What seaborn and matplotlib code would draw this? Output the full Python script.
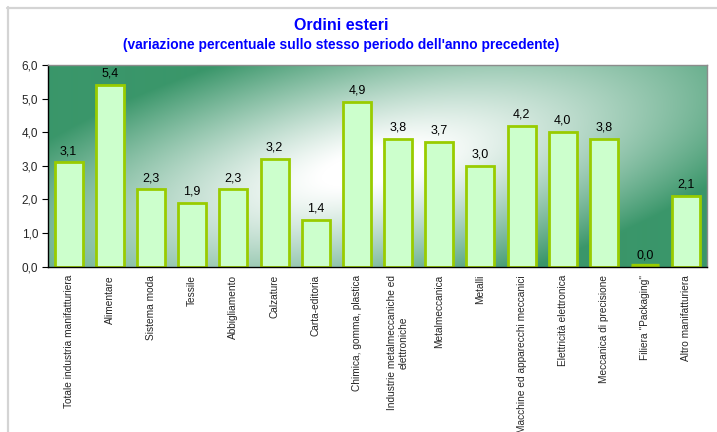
import numpy as np
import matplotlib
matplotlib.use("Agg")
import matplotlib.pyplot as plt
from matplotlib.lines import Line2D
from matplotlib.colors import to_rgb
import matplotlib.transforms as mtransforms
import seaborn as sns

categories = [
    "Totale industria manifatturiera",
    "Alimentare",
    "Sistema moda",
    "Tessile",
    "Abbigliamento",
    "Calzature",
    "Carta-editoria",
    "Chimica, gomma, plastica",
    "Industrie metalmeccaniche ed\nelettroniche",
    "Metalmeccanica",
    "Metalli",
    "Macchine ed apparecchi meccanici",
    "Elettricità elettronica",
    "Meccanica di precisione",
    "Filiera \"Packaging\"",
    "Altro manifatturiera",
]
values = [3.1, 5.4, 2.3, 1.9, 2.3, 3.2, 1.4, 4.9, 3.8, 3.7, 3.0, 4.2, 4.0, 3.8, 0.0, 2.1]
y_ticks = [0.0, 1.0, 2.0, 3.0, 4.0, 5.0, 6.0]

sns.set_style("white")
plt.rcParams["font.family"] = ["Liberation Sans", "DejaVu Sans"]

W, H = 717, 432
fig = plt.figure(figsize=(W / 100, H / 100), dpi=100)
fig.patch.set_facecolor("white")

# plot area in pixels
left, right, top, bottom = 48, 707, 65, 266.7
ax = fig.add_axes([left / W, (H - bottom) / H, (right - left) / W, (bottom - top) / H])

# green background with a tilted soft white glow
nx, ny = 660, 202
xs = np.arange(nx)[None, :]
ys = np.arange(ny)[:, None]  # from bottom
cx, cy = 325.0, 100.0
ang = np.deg2rad(13)
dx, dy = xs - cx, ys - cy
u = dx * np.cos(ang) + dy * np.sin(ang)
v = -dx * np.sin(ang) + dy * np.cos(ang)
t = np.sqrt((u / 440.0) ** 2 + (v / 140.0) ** 2)
f = np.clip((t - 0.12) / 0.88, 0, 1) ** 1.15
green = np.array(to_rgb("#3a966a"))
white = np.array([1.0, 1.0, 1.0])
img = white[None, None, :] * (1 - f[..., None]) + green[None, None, :] * f[..., None]
ax.imshow(img, extent=(-0.5, len(categories) - 0.5, 0, 6), origin="lower",
          aspect="auto", zorder=0, interpolation="bilinear")

edge = "#99cc00"
sns.barplot(x=categories, y=values, color="#ccffcc", saturation=1,
            edgecolor=edge, linewidth=2.0, width=0.68, ax=ax, zorder=2)
# a zero-height bar still shows its outline as a flat stroke
lift = ax.transData + mtransforms.ScaledTranslation(0, 2 / 100, fig.dpi_scale_trans)
for p in list(ax.patches):
    if p.get_height() == 0:
        x0 = p.get_x()
        ax.add_line(Line2D([x0, x0 + p.get_width()], [p.get_y(), p.get_y()], color=edge,
                           lw=2.4, solid_capstyle="butt", zorder=2, transform=lift))

for i, val in enumerate(values):
    ax.annotate(f"{val:.1f}".replace(".", ","), (i, val), xytext=(0, 6),
                textcoords="offset points", ha="center", va="baseline",
                fontsize=9, color="black", zorder=3)

ax.set_xlim(-0.5, len(categories) - 0.5)
ax.set_ylim(0, 6)
ax.set_yticks(y_ticks)
ax.set_yticklabels([f"{y:.1f}".replace(".", ",") for y in y_ticks], fontsize=8.5)
ax.set_xticks(range(len(categories)))
ax.set_xticklabels(categories, rotation=90, fontsize=7.3, ha="center", va="top",
                   multialignment="center")
ax.tick_params(axis="x", length=0, pad=6)
ax.set_xticks(np.arange(len(categories) + 1) - 0.5, minor=True)
ax.tick_params(axis="x", which="minor", length=4, width=0.6, color="black", direction="out")
ax.tick_params(axis="y", length=4, width=0.8, color="black", direction="out", pad=3, left=True)
ax.set_xlabel("")
ax.set_ylabel("")

for side in ("left", "bottom"):
    ax.spines[side].set_color("black")
    ax.spines[side].set_linewidth(1.0)
for side in ("top", "right"):
    ax.spines[side].set_color("#8c8c8c")
    ax.spines[side].set_linewidth(1.0)

fig.text(341 / W, 1 - 26 / H, "Ordini esteri", ha="center", va="center",
         fontsize=11.5, fontweight="bold", color="#0000ff")
fig.text(341 / W, 1 - 45 / H,
         "(variazione percentuale sullo stesso periodo dell'anno precedente)",
         ha="center", va="center", fontsize=9.9, fontweight="bold", color="#0000ff")

# outer chart-area frame
fig.add_artist(Line2D([7 / W, 1], [1 - 7.5 / H, 1 - 7.5 / H], color="#d4d4d4", lw=1.6))
fig.add_artist(Line2D([7.5 / W, 7.5 / W], [0, 1 - 7 / H], color="#d4d4d4", lw=1.6))

fig.savefig("out.png", dpi=100)
